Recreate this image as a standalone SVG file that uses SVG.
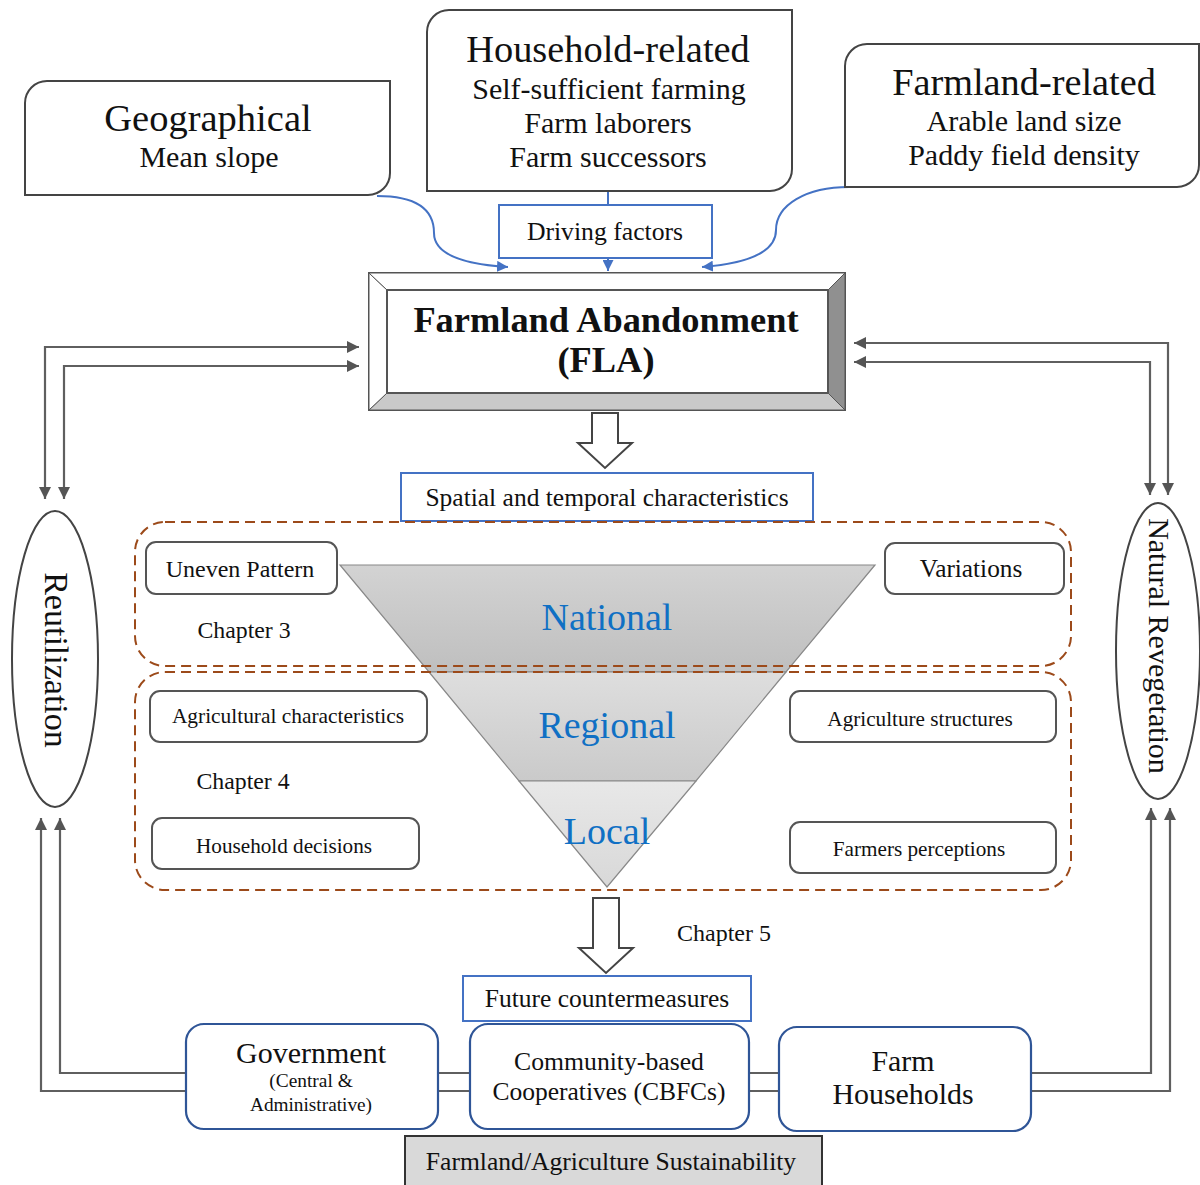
<svg xmlns="http://www.w3.org/2000/svg" width="1200" height="1185" viewBox="0 0 1200 1185">
<defs>
<style>
text{font-family:"Liberation Serif","Times New Roman",serif;fill:#111;text-anchor:middle}
.box{fill:#fff;stroke:#444;stroke-width:2}
.rbox{fill:#fff;stroke:#555;stroke-width:2}
.bbox{fill:#fff;stroke:#4472c4;stroke-width:2}
.dbox{fill:#fff;stroke:#2f5597;stroke-width:2.2}
.conn{fill:none;stroke:#5f5f5f;stroke-width:2.2}
.bconn{fill:none;stroke:#4472c4;stroke-width:2}
.dash{fill:none;stroke:#9c4a1a;stroke-width:2;stroke-dasharray:10 6}
.lvl{font-size:38px;fill:#1070c4}
.hollow{fill:#fff;stroke:#444;stroke-width:2}
</style>
<marker id="ag" viewBox="0 0 10 10" refX="10" refY="5" markerWidth="12" markerHeight="12" orient="auto-start-reverse" markerUnits="userSpaceOnUse"><path d="M0,0 L10,5 L0,10 z" fill="#555"/></marker>
<marker id="ab" viewBox="0 0 10 10" refX="10" refY="5" markerWidth="11" markerHeight="11" orient="auto-start-reverse" markerUnits="userSpaceOnUse"><path d="M0,0 L10,5 L0,10 z" fill="#4472c4"/></marker>
<linearGradient id="gN" x1="0" y1="0" x2="0" y2="1"><stop offset="0" stop-color="#d3d3d3"/><stop offset="1" stop-color="#bfbfbf"/></linearGradient>
<linearGradient id="gR" x1="0" y1="0" x2="0" y2="1"><stop offset="0" stop-color="#dedede"/><stop offset="1" stop-color="#cacaca"/></linearGradient>
<linearGradient id="gL" x1="0" y1="0" x2="0" y2="1"><stop offset="0" stop-color="#e8e8e8"/><stop offset="1" stop-color="#d8d8d8"/></linearGradient>
</defs>

<g id="connectors">
<path class="bconn" d="M377 196 C420 196 434 212 434 233 C434 258 475 265 508 267" marker-end="url(#ab)"/>
<path class="bconn" d="M849 187 C806 187 776 205 776 230 C776 255 740 264 702 267" marker-end="url(#ab)"/>
<path class="bconn" d="M608 191 V205"/>
<path class="bconn" d="M608 258 V271" marker-end="url(#ab)"/>
<path class="conn" d="M45 499 V347 H359" marker-start="url(#ag)" marker-end="url(#ag)"/>
<path class="conn" d="M64 499 V366 H359" marker-start="url(#ag)" marker-end="url(#ag)"/>
<path class="conn" d="M854 343 H1168 V495" marker-start="url(#ag)" marker-end="url(#ag)"/>
<path class="conn" d="M854 362 H1150 V495" marker-start="url(#ag)" marker-end="url(#ag)"/>
<path class="conn" d="M186 1091 H41 V818" marker-end="url(#ag)"/>
<path class="conn" d="M186 1073 H60 V818" marker-end="url(#ag)"/>
<path class="conn" d="M1031 1073 H1151 V808" marker-end="url(#ag)"/>
<path class="conn" d="M1031 1091 H1170 V808" marker-end="url(#ag)"/>
<path class="conn" d="M438 1073 H470 M438 1091 H470 M749 1073 H779 M749 1091 H779"/>
<path class="hollow" d="M592 413 H618 V443 H632 L605 468 L578 443 H592 Z"/>
<path class="hollow" d="M593 898 H619 V948 H633 L606 973 L579 948 H593 Z"/>
</g>

<g id="geographical">
<path class="box" d="M47 81 H390 V173 A22 22 0 0 1 368 195 H25 V103 A22 22 0 0 1 47 81 Z"/>
<text x="208" y="131" font-size="38.5">Geographical</text>
<text x="209" y="167" font-size="30">Mean slope</text>
</g>

<g id="household">
<path class="box" d="M449 10 H792 V169 A22 22 0 0 1 770 191 H427 V32 A22 22 0 0 1 449 10 Z"/>
<text x="608" y="62" font-size="38.4">Household-related</text>
<text x="609" y="99" font-size="30">Self-sufficient farming</text>
<text x="608" y="133" font-size="30">Farm laborers</text>
<text x="608" y="167" font-size="30">Farm successors</text>
</g>

<g id="farmland">
<path class="box" d="M867 44 H1199 V165 A22 22 0 0 1 1177 187 H845 V66 A22 22 0 0 1 867 44 Z"/>
<text x="1024" y="95" font-size="38.3">Farmland-related</text>
<text x="1024" y="131" font-size="30">Arable land size</text>
<text x="1024" y="165" font-size="30">Paddy field density</text>
</g>

<g id="driving">
<rect class="bbox" x="499" y="205" width="213" height="53"/>
<text x="605" y="240" font-size="25.7">Driving factors</text>
</g>

<g id="fla">
<rect x="369" y="273" width="476" height="137" fill="#fff" stroke="#555" stroke-width="2"/>
<polygon points="828,290 845,273 845,410 828,393" fill="#909090" stroke="#555" stroke-width="1"/>
<polygon points="387,393 828,393 845,410 369,410" fill="#c9c9c9" stroke="#555" stroke-width="1"/>
<polygon points="369,273 387,290 387,393 369,410" fill="#fff" stroke="#555" stroke-width="1"/>
<polygon points="369,273 845,273 828,290 387,290" fill="#fff" stroke="#555" stroke-width="1"/>
<rect x="387" y="290" width="441" height="103" fill="#fff" stroke="#555" stroke-width="2"/>
<text x="606" y="332" font-size="36.4" font-weight="bold">Farmland Abandonment</text>
<text x="606" y="372" font-size="36.4" font-weight="bold">(FLA)</text>
</g>

<g id="spatial">
<rect class="bbox" x="401" y="473" width="412" height="48"/>
<text x="607" y="506" font-size="25.5">Spatial and temporal characteristics</text>
</g>

<g id="pyramid">
<polygon points="340,565 875,565 786,672 429,672" fill="url(#gN)" stroke="#888" stroke-width="1.2"/>
<polygon points="429,672 786,672 696,781 519,781" fill="url(#gR)" stroke="#888" stroke-width="1.2"/>
<polygon points="519,781 696,781 607,887" fill="url(#gL)" stroke="#888" stroke-width="1.2"/>
<text class="lvl" x="607" y="630">National</text>
<text class="lvl" x="607" y="738">Regional</text>
<text class="lvl" x="607" y="844">Local</text>
</g>

<g id="region-ch3">
<rect class="dash" x="135" y="522" width="936" height="144" rx="30"/>
</g>
<g id="region-ch4">
<rect class="dash" x="135" y="672" width="936" height="218" rx="30"/>
</g>

<g id="uneven">
<rect class="rbox" x="146" y="542" width="191" height="52" rx="10"/>
<text x="240" y="577" font-size="24">Uneven Pattern</text>
</g>
<g id="variations">
<rect class="rbox" x="885" y="543" width="179" height="51" rx="10"/>
<text x="971" y="577" font-size="25.3">Variations</text>
</g>
<g id="chapter3"><text x="244" y="638" font-size="23.8">Chapter 3</text></g>
<g id="agri-char">
<rect class="rbox" x="150" y="691" width="277" height="51" rx="10"/>
<text x="288" y="723" font-size="21.4">Agricultural characteristics</text>
</g>
<g id="agri-struct">
<rect class="rbox" x="790" y="691" width="266" height="51" rx="10"/>
<text x="920" y="726" font-size="21.2">Agriculture structures</text>
</g>
<g id="chapter4"><text x="243" y="789" font-size="23.8">Chapter 4</text></g>
<g id="hh-decisions">
<rect class="rbox" x="152" y="818" width="267" height="51" rx="10"/>
<text x="284" y="853" font-size="21.2">Household decisions</text>
</g>
<g id="farmers-perc">
<rect class="rbox" x="790" y="822" width="266" height="51" rx="10"/>
<text x="919" y="856" font-size="21.2">Farmers perceptions</text>
</g>

<g id="reutilization">
<ellipse cx="55" cy="659" rx="43" ry="148" fill="#fff" stroke="#444" stroke-width="2"/>
<text transform="translate(45,660) rotate(90)" font-size="34">Reutilization</text>
</g>
<g id="natural-reveg">
<ellipse cx="1158" cy="651" rx="42" ry="148" fill="#fff" stroke="#444" stroke-width="2"/>
<text transform="translate(1149,646) rotate(90)" font-size="30">Natural Revegetation</text>
</g>

<g id="chapter5"><text x="724" y="941" font-size="24">Chapter 5</text></g>

<g id="future">
<rect class="bbox" x="463" y="976" width="288" height="45"/>
<text x="607" y="1007" font-size="25.5">Future countermeasures</text>
</g>

<g id="government">
<rect class="dbox" x="186" y="1024" width="252" height="105" rx="18"/>
<text x="311" y="1063" font-size="30">Government</text>
<text x="311" y="1087" font-size="19.4">(Central &amp;</text>
<text x="311" y="1111" font-size="19.3">Administrative)</text>
</g>
<g id="community">
<rect class="dbox" x="470" y="1024" width="279" height="105" rx="18"/>
<text x="609" y="1070" font-size="25.7">Community-based</text>
<text x="609" y="1100" font-size="25.5">Cooperatives (CBFCs)</text>
</g>
<g id="farm-households">
<rect class="dbox" x="779" y="1027" width="252" height="104" rx="18"/>
<text x="903" y="1071" font-size="29.9">Farm</text>
<text x="903" y="1104" font-size="29.9">Households</text>
</g>

<g id="sustainability">
<rect x="405" y="1136" width="417" height="60" fill="#d9d9d9" stroke="#333" stroke-width="2"/>
<text x="611" y="1170" font-size="25.6">Farmland/Agriculture Sustainability</text>
</g>
</svg>
